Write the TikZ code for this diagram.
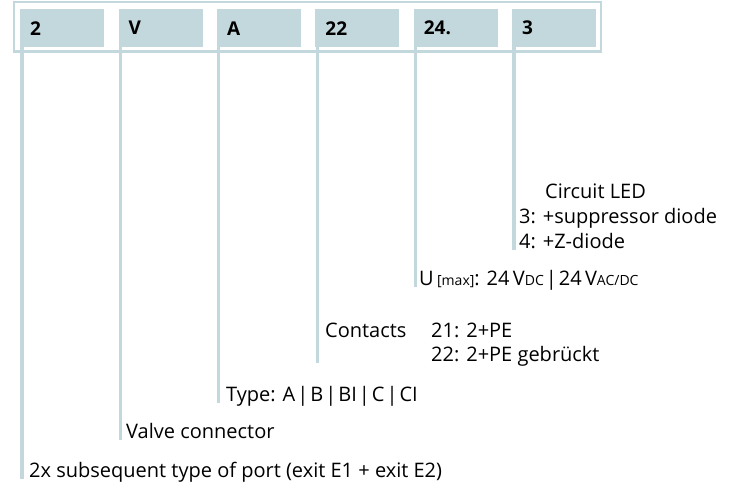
\documentclass[tikz,border=0pt]{standalone}
\usepackage{fontspec}
\setmainfont{Open Sans}
\usepackage{tikz}
\usetikzlibrary{calc}
\definecolor{code-box}{HTML}{C3D8DC}
\newcommand{\smallpart}[1]{{\fontsize{14}{14}\selectfont #1}}
\newcommand{\sepbar}{\kern2pt|\kern2pt}

\begin{document}
\begin{tikzpicture}[x=1pt, y=-1pt,
    codebox/.style={fill=code-box, anchor=north west, minimum height=38pt, text width=64pt,
      inner xsep=10pt, inner ysep=0pt, align=left, font=\fontsize{19}{19}\selectfont\bfseries},
    lead/.style={draw=code-box, line width=3.2pt, shorten >=-1.5pt},
    note/.style={anchor=base west, inner sep=0pt, font=\fontsize{20}{25}\selectfont}]
    \useasboundingbox (0,0) rectangle (743,492);
    \draw[code-box, line width=2.5pt] (14,2.2) rectangle (601,51.7);
    \foreach \lbl [count=\i from 0] in {2,V,A,22,24.,3} {
        \node[codebox] (box\i) at (20+98.4*\i,9) {\lbl};
        \coordinate (foot\i) at ([xshift=2pt]box\i.south west);
    }
    \node[note] (port) at (29,477) {2x subsequent type of port (exit E1 + exit E2)};
    \node[note] (valve) at (126,438) {Valve connector};
    \node[note] (type) at (226,401) {Type: A\sepbar B\sepbar BI\sepbar C\sepbar CI};
    \node[note] (contacts) at (325,337) {Contacts};
    \node[note] (c21) at (431,337) {21: 2+PE};
    \node[note] (c22) at (431,361) {22: 2+PE gebrückt};
    \node[note] (umax) at (419,285) {U\,\smallpart{[max]}: 24\,V\smallpart{DC}\sepbar 24\,V\smallpart{AC/DC}};
    \node[note] (led) at (545,198) {Circuit LED};
    \node[note] (d3) at (519,223) {3: +suppressor diode};
    \node[note] (d4) at (519,248) {4: +Z-diode};
    \draw[lead] (foot0) -- (foot0 |- port.base);
    \draw[lead] (foot1) -- (foot1 |- valve.base);
    \draw[lead] (foot2) -- (foot2 |- type.base);
    \draw[lead] (foot3) -- (foot3 |- c22.base);
    \draw[lead] (foot4) -- (foot4 |- umax.base);
    \draw[lead] (foot5) -- (foot5 |- d4.base);
\end{tikzpicture}
\end{document}
